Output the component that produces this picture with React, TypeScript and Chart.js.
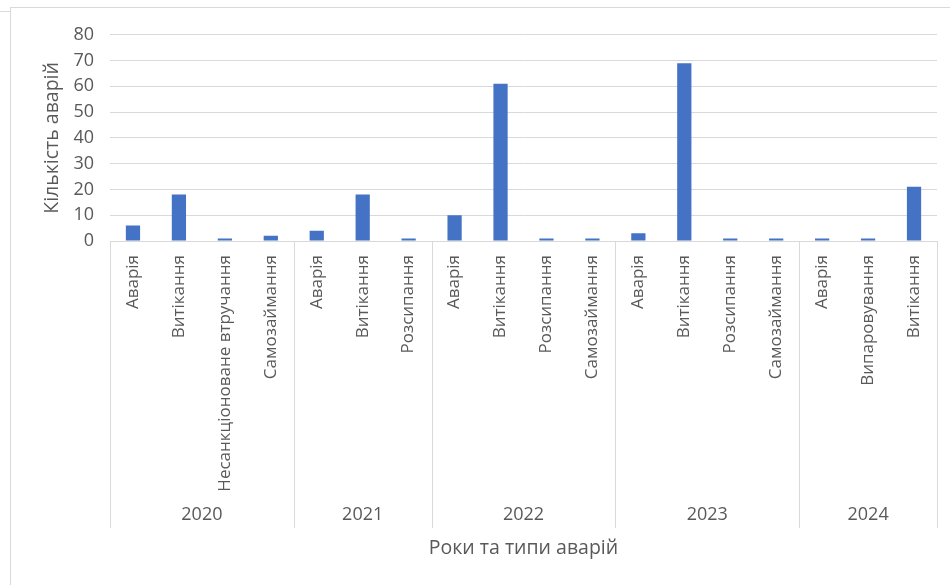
import React, { useEffect, useRef } from "react";
import { Chart, registerables } from "chart.js";

Chart.register(...registerables);

// Accident counts by year and accident type
const yearLabels = ["2020", "2021", "2022", "2023", "2024"];
const typesPerYear = [4, 3, 4, 4, 3];
const typeLabels = [
  "Аварія", "Витікання", "Несанкціоноване втручання", "Самозаймання",
  "Аварія", "Витікання", "Розсипання",
  "Аварія", "Витікання", "Розсипання", "Самозаймання",
  "Аварія", "Витікання", "Розсипання", "Самозаймання",
  "Аварія", "Випаровування", "Витікання",
];
const accidentCounts = [
  6, 18, 1, 2,
  4, 18, 1,
  10, 61, 1, 1,
  3, 69, 1, 1,
  1, 1, 21,
];
const yTicks = [0, 10, 20, 30, 40, 50, 60, 70, 80];

const FONT = "'Open Sans', 'Noto Sans', sans-serif";
const TEXT = "#595959";
const GRID = "#d9d9d9";
const BAR = "#4472C4";

// index boundaries between year groups and the centre of each group
const groupBounds: number[] = [-0.5];
const groupCenters: number[] = [];
typesPerYear.forEach((n) => {
  const start = groupBounds[groupBounds.length - 1];
  groupCenters.push(start + n / 2);
  groupBounds.push(start + n);
});

const yearSeparators = {
  id: "yearSeparators",
  afterDraw(chart: any) {
    const { ctx, scales } = chart;
    const x = scales.x;
    const x2 = scales.x2;
    const top = chart.chartArea.bottom;
    const bottom = x2.top + 37;
    ctx.save();
    ctx.strokeStyle = GRID;
    ctx.lineWidth = 1;
    groupBounds.forEach((b) => {
      const px = Math.round(x.getPixelForValue(b)) + 0.5;
      ctx.beginPath();
      ctx.moveTo(px, top);
      ctx.lineTo(px, bottom);
      ctx.stroke();
    });
    ctx.restore();
  },
};

export default function App() {
  const canvasRef = useRef<HTMLCanvasElement>(null);

  useEffect(() => {
    const canvas = canvasRef.current;
    if (!canvas) return;
    const chart = new Chart(canvas, {
      type: "bar",
      data: {
        labels: typeLabels,
        datasets: [
          {
            label: "Кількість аварій",
            data: accidentCounts,
            backgroundColor: BAR,
            categoryPercentage: 1,
            barPercentage: 0.31,
          },
        ],
      },
      options: {
        animation: false,
        responsive: false,
        devicePixelRatio: 1,
        layout: { padding: { left: 0, top: 24, right: 13, bottom: 0 } },
        plugins: {
          legend: { display: false },
          tooltip: { enabled: false },
        },
        scales: {
          y: {
            min: 0,
            max: 80,
            afterBuildTicks: (scale: any) => {
              scale.ticks = yTicks.map((v) => ({ value: v }));
            },
            afterFit: (scale: any) => {
              scale.width = 99;
            },
            grid: { color: GRID, lineWidth: 1, drawTicks: false },
            border: { display: false },
            ticks: {
              color: TEXT,
              font: { family: FONT, size: 18 },
              padding: 16,
            },
            title: {
              display: true,
              text: "Кількість аварій",
              color: TEXT,
              font: { family: FONT, size: 19.5 },
              padding: { top: 30, bottom: 0 },
            },
          },
          x: {
            type: "category",
            weight: 0,
            afterFit: (scale: any) => {
              scale.height = 250;
            },
            grid: { drawOnChartArea: false, drawTicks: false },
            border: { display: true, color: GRID, width: 1 },
            ticks: {
              autoSkip: false,
              minRotation: 90,
              maxRotation: 90,
              color: TEXT,
              font: { family: FONT, size: 17 },
              padding: 14,
            },
          },
          x2: {
            type: "linear",
            position: "bottom",
            weight: 1,
            offset: false,
            min: -0.5,
            max: 17.5,
            afterBuildTicks: (scale: any) => {
              scale.ticks = groupCenters.map((v) => ({ value: v }));
            },
            afterFit: (scale: any) => {
              scale.height = 94;
            },
            grid: { display: false, drawTicks: false },
            border: { display: false },
            ticks: {
              autoSkip: false,
              maxRotation: 0,
              color: TEXT,
              font: { family: FONT, size: 18 },
              padding: 13,
              callback: (_v: any, i: number) => yearLabels[i],
            },
            title: {
              display: true,
              text: "Роки та типи аварій",
              color: TEXT,
              font: { family: FONT, size: 19.5 },
              padding: { top: 0, bottom: 25 },
            },
          },
        },
      },
      plugins: [yearSeparators],
    } as any);
    return () => chart.destroy();
  }, []);

  return (
    <>
      <div
        style={{
          position: "fixed",
          left: 0,
          top: 11,
          width: 10,
          height: 1,
          background: GRID,
        }}
      />
      <div
        style={{
          position: "fixed",
          left: 10,
          top: 7,
          width: 960,
          height: 600,
          borderLeft: `1px solid ${GRID}`,
          borderTop: `1px solid ${GRID}`,
          background: "#fff",
        }}
      >
        <canvas
          ref={canvasRef}
          width={939}
          height={577}
          style={{ display: "block", width: 939, height: 577 }}
        />
      </div>
    </>
  );
}
